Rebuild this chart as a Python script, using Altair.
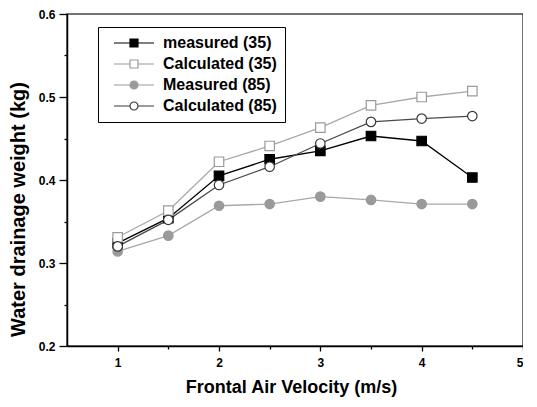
import altair as alt
import pandas as pd

velocity = [1.0, 1.5, 2.0, 2.5, 3.0, 3.5, 4.0, 4.5]
series_names = ["measured (35)", "Calculated (35)", "Measured (85)", "Calculated (85)"]
measured_35 = [0.324, 0.354, 0.405, 0.425, 0.435, 0.453, 0.447, 0.403]
calculated_35 = [0.331, 0.363, 0.422, 0.441, 0.463, 0.490, 0.500, 0.507]
measured_85 = [0.314, 0.333, 0.369, 0.371, 0.380, 0.376, 0.371, 0.371]
calculated_85 = [0.320, 0.352, 0.394, 0.416, 0.444, 0.470, 0.474, 0.477]

rows = []
for name, vals in zip(series_names, [measured_35, calculated_35, measured_85, calculated_85]):
    for v, w in zip(velocity, vals):
        rows.append({"v": v, "w": w, "series": name})
df = pd.DataFrame(rows)

line_colors = ["#000000", "#a8a8a8", "#a8a8a8", "#4a4a4a"]
stroke_colors = ["#000000", "#9a9a9a", "#9a9a9a", "#3a3a3a"]
fill_colors = ["#000000", "#ffffff", "#9a9a9a", "#ffffff"]
shapes = ["square", "square", "circle", "circle"]

square_path = "M-5,0H-1M1,0H5M-1,-1H1V1H-1Z"
circle_path = "M-5,0H-1M1,0H5M1,0A1,1,0,1,1,-1,0A1,1,0,1,1,1,0Z"
legend_shapes = [square_path, square_path, circle_path, circle_path]

FONT = "Liberation Sans"
PLOT_W = 456
PLOT_H = 332

x_enc = alt.X(
    "v:Q",
    scale=alt.Scale(domain=[0.5, 5], nice=False, zero=False),
    axis=alt.Axis(
        values=[1, 1.5, 2, 2.5, 3, 3.5, 4, 4.5, 5],
        labelExpr="datum.value % 1 == 0 ? format(datum.value, 'd') : ''",
        tickSize={"condition": {"test": "datum.value % 1 != 0", "value": 3}, "value": 5},
        title="Frontal Air Velocity (m/s)",
        titleFontSize=18,
        titleX=224, titleY=41, titleBaseline="middle",
        labelPadding=6,
    ),
)
y_enc = alt.Y(
    "w:Q",
    scale=alt.Scale(domain=[0.2, 0.6], nice=False, zero=False),
    axis=alt.Axis(
        values=[0.2, 0.25, 0.3, 0.35, 0.4, 0.45, 0.5, 0.55, 0.6],
        labelExpr="round(datum.value * 20) % 2 == 1 ? '' : format(datum.value, '.1f')",
        tickSize={"condition": {"test": "round(datum.value * 20) % 2 == 1", "value": 3}, "value": 8},
        title="Water drainage weight (kg)",
        titleFontSize=20,
        titleX=-49, titleY=195, titleBaseline="middle",
        labelPadding=4,
    ),
)

legend = alt.Legend(
    title=None,
    orient="none",
    legendX=31,
    legendY=13,
    strokeColor="#000000",
    padding=8,
    symbolSize=64,
    symbolStrokeWidth=1.2,
    symbolOffset=20,
    labelOffset=21,
    labelFont=FONT,
    labelFontSize=16,
    labelFontWeight="bold",
    labelColor="#000000",
    rowPadding=5,
)

lines = alt.Chart(df).mark_line(strokeWidth=1.3).encode(
    x=x_enc,
    y=y_enc,
    color=alt.Color("series:N", scale=alt.Scale(domain=series_names, range=line_colors), legend=None),
    detail="series:N",
)

points = alt.Chart(df).mark_point(filled=False, size=90, strokeWidth=1.2, opacity=1).encode(
    x=x_enc,
    y=y_enc,
    stroke=alt.Stroke("series:N", scale=alt.Scale(domain=series_names, range=stroke_colors), legend=None),
    fill=alt.Fill("series:N", scale=alt.Scale(domain=series_names, range=fill_colors), legend=None),
    shape=alt.Shape("series:N", scale=alt.Scale(domain=series_names, range=shapes), legend=None),
)

legend_layer = alt.Chart(df).transform_filter("false").mark_point(filled=False, size=64, opacity=1).encode(
    x=x_enc,
    y=y_enc,
    stroke=alt.Stroke("series:N", scale=alt.Scale(domain=series_names, range=stroke_colors), legend=legend),
    fill=alt.Fill("series:N", scale=alt.Scale(domain=series_names, range=fill_colors), legend=legend),
    shape=alt.Shape("series:N", scale=alt.Scale(domain=series_names, range=legend_shapes), legend=legend),
)

chart = (
    alt.layer(lines, points, legend_layer)
    .resolve_scale(shape="independent", stroke="independent", fill="independent")
    .properties(
        width=PLOT_W,
        height=PLOT_H,
        background="#ffffff",
        autosize=alt.AutoSizeParams(type="none"),
        padding={"left": 59, "top": 6, "right": 0, "bottom": 53},
    )
    .configure_view(stroke="#444444", strokeWidth=1.5)
    .configure_axis(
        domainColor="#000000",
        domainWidth=1.5,
        tickColor="#000000",
        tickWidth=1.3,
        grid=False,
        labelFont=FONT,
        labelFontSize=12,
        labelFontWeight="bold",
        labelColor="#000000",
        titleFont=FONT,
        titleFontWeight="bold",
        titleColor="#000000",
    )
)

chart.save("out.html", embed_options={"renderer": "svg", "actions": False})
